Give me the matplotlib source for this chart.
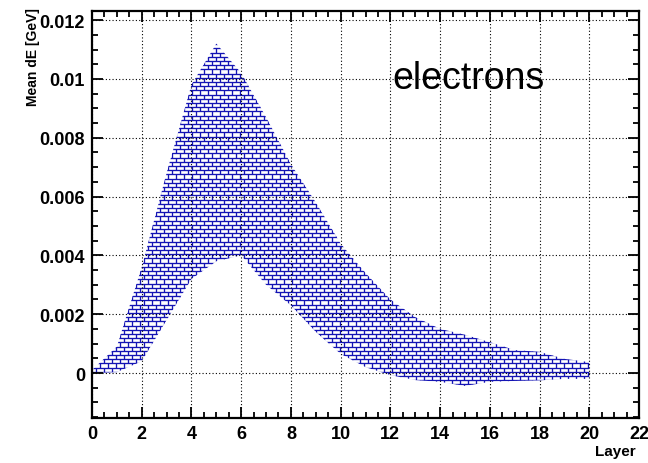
import numpy as np
import matplotlib
matplotlib.use('Agg')
import matplotlib.pyplot as plt
from matplotlib.collections import LineCollection
from matplotlib.ticker import MultipleLocator, FuncFormatter

plt.rcParams['font.family'] = ['Liberation Sans', 'DejaVu Sans']

# mean energy deposit per layer, band between lower and upper edge
layer = [0, 1, 2, 3, 4, 5, 6, 7, 8, 9, 10, 11, 12, 13, 14, 15, 16, 17, 18, 19, 20]
upper = [0.0001, 0.0009, 0.0036, 0.0068, 0.0098, 0.0112, 0.0102, 0.0087, 0.0071,
         0.0058, 0.0044, 0.0034, 0.0025, 0.0019, 0.0015, 0.0013, 0.00105, 0.00078,
         0.00072, 0.00048, 0.00037]
lower = [0.0, 0.00003, 0.0004, 0.0018, 0.0032, 0.0038, 0.0040, 0.0030, 0.0023,
         0.0014, 0.00065, 0.0002, -0.00007, -0.00024, -0.0003, -0.00044, -0.0003,
         -0.00027, -0.00025, -0.0002, -0.0002]

fig = plt.figure(figsize=(6.48, 4.64), dpi=100)
ax = fig.add_axes([0.142, 0.097, 0.8441, 0.8771])
ax.set_xlim(0, 22)
ax.set_ylim(-0.00153, 0.01231)

band = ax.fill_between(layer, lower, upper, facecolor='none', edgecolor='none')

# brick hatch, drawn in axes fraction and clipped to the band
axw, axh = 0.8441 * 648, 0.8771 * 464
bw, bh = 8.0 / axw, 4.2 / axh
segs = []
for k in range(int(1 / bh) + 2):
    y0 = k * bh
    segs.append([(0, y0), (1, y0)])
    off = (k % 2) * bw / 2
    for j in range(int(1 / bw) + 2):
        x0 = j * bw + off
        segs.append([(x0, y0), (x0, y0 + bh)])
bricks = LineCollection(segs, colors='#1414b4', linewidths=0.95,
                        transform=ax.transAxes, zorder=1)
ax.add_collection(bricks)
bricks.set_clip_path(band.get_paths()[0], ax.transData)

ax.xaxis.set_major_locator(MultipleLocator(2))
ax.xaxis.set_minor_locator(MultipleLocator(0.5))
ax.yaxis.set_major_locator(MultipleLocator(0.002))
ax.yaxis.set_minor_locator(MultipleLocator(0.0005))
ax.yaxis.set_major_formatter(FuncFormatter(lambda v, p: '%g' % round(v, 6)))

ax.set_axisbelow(False)
ax.grid(True, which='major', color='black', linestyle=(0, (1, 2)), linewidth=0.8)

ax.tick_params(which='both', direction='in', top=True, right=True, width=1.3,
               labelsize=13)
ax.tick_params(which='major', length=8)
ax.tick_params(which='minor', length=4.5)
ax.tick_params(axis='x', pad=5)
ax.tick_params(axis='y', pad=5)
for lab in ax.get_xticklabels() + ax.get_yticklabels():
    lab.set_fontweight('bold')
for sp in ax.spines.values():
    sp.set_linewidth(1.6)

ax.set_ylabel('Mean dE [GeV]', loc='top', fontsize=10, fontweight='bold')
ax.yaxis.set_label_coords(-0.095, 1.01)
ax.set_xlabel('Layer', loc='right', fontsize=11, fontweight='bold')
ax.xaxis.set_label_coords(0.993, -0.065)

ax.text(12.1, 0.0097, 'electrons', fontsize=27, va='baseline', ha='left')

fig.savefig('out.png', dpi=100)
